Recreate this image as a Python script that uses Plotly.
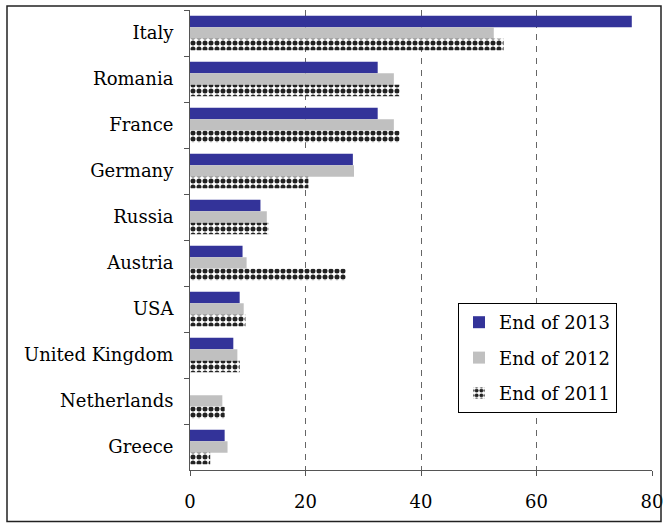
import plotly.graph_objects as go

countries = ["Italy", "Romania", "France", "Germany", "Russia", "Austria",
             "USA", "United Kingdom", "Netherlands", "Greece"]
end_2013 = [76.5, 32.5, 32.5, 28.2, 12.2, 9.1, 8.6, 7.5, None, 6.0]
end_2012 = [52.6, 35.3, 35.3, 28.4, 13.3, 9.8, 9.3, 8.2, 5.6, 6.5]
end_2011 = [54.3, 36.3, 36.3, 20.5, 13.6, 27.0, 9.6, 8.6, 6.0, 3.5]
x_ticks = [0, 20, 40, 60, 80]

FONT = "DejaVu Serif"
FS = 18

fig = go.Figure()
fig.add_trace(go.Bar(y=countries, x=end_2013, orientation="h", name="End of 2013",
                     legendgroup="a", marker=dict(color="#333399", line=dict(width=0))))
fig.add_trace(go.Bar(y=countries, x=end_2012, orientation="h", name="End of 2012",
                     legendgroup="b", marker=dict(color="#C0C0C0", line=dict(width=0))))
fig.add_trace(go.Bar(y=countries, x=end_2011, orientation="h", name="End of 2011",
                     legendgroup="c",
                     marker=dict(color="white", line=dict(width=0),
                                 pattern=dict(shape=".", size=6, solidity=0.55,
                                              fgcolor="#222222", bgcolor="white",
                                              fillmode="replace"))))

W, H = 663, 527
ml, mr, mt, mb = 190, 11, 10, 57
pw, ph = W - ml - mr, H - mt - mb

def px_x(p):
    return (p - ml) / pw

def px_y(p):
    return (H - mb - p) / ph

fig.update_layout(
    width=W, height=H,
    margin=dict(l=ml, r=mr, t=mt, b=mb, pad=0),
    paper_bgcolor="white", plot_bgcolor="white",
    barmode="group", bargap=0.25, bargroupgap=0,
    font=dict(family=FONT, size=FS, color="black"),
    showlegend=True,
    legend=dict(x=px_x(458), y=px_y(303), xanchor="left", yanchor="top",
                bgcolor="white", bordercolor="black", borderwidth=1,
                font=dict(family=FONT, size=FS, color="black"),
                tracegroupgap=9, traceorder="grouped"),
    xaxis=dict(range=[0, 80], tickvals=x_ticks, ticks="outside", ticklen=5,
               tickcolor="#555555", showline=True, linecolor="#555555", linewidth=1,
               showgrid=True, gridcolor="#666666", griddash="6px,6px", gridwidth=1,
               zeroline=False, fixedrange=True, automargin=False,
               ticklabeloverflow="allow",
               ticklabelstandoff=10, tickfont=dict(family=FONT, size=FS)),
    yaxis=dict(autorange="reversed", categoryorder="array", categoryarray=countries,
               ticks="outside", ticklen=5, tickson="boundaries", tickcolor="#555555",
               showline=True, linecolor="#555555", linewidth=1, showgrid=False,
               ticklabelstandoff=12, fixedrange=True, automargin=False,
               tickfont=dict(family=FONT, size=FS)),
    shapes=[dict(type="rect", xref="paper", yref="paper",
                 x0=px_x(7), x1=px_x(661), y0=px_y(521.5), y1=px_y(6),
                 line=dict(color="#222222", width=1.5), fillcolor="rgba(0,0,0,0)",
                 layer="above")],
)

fig.write_html("out.html")
